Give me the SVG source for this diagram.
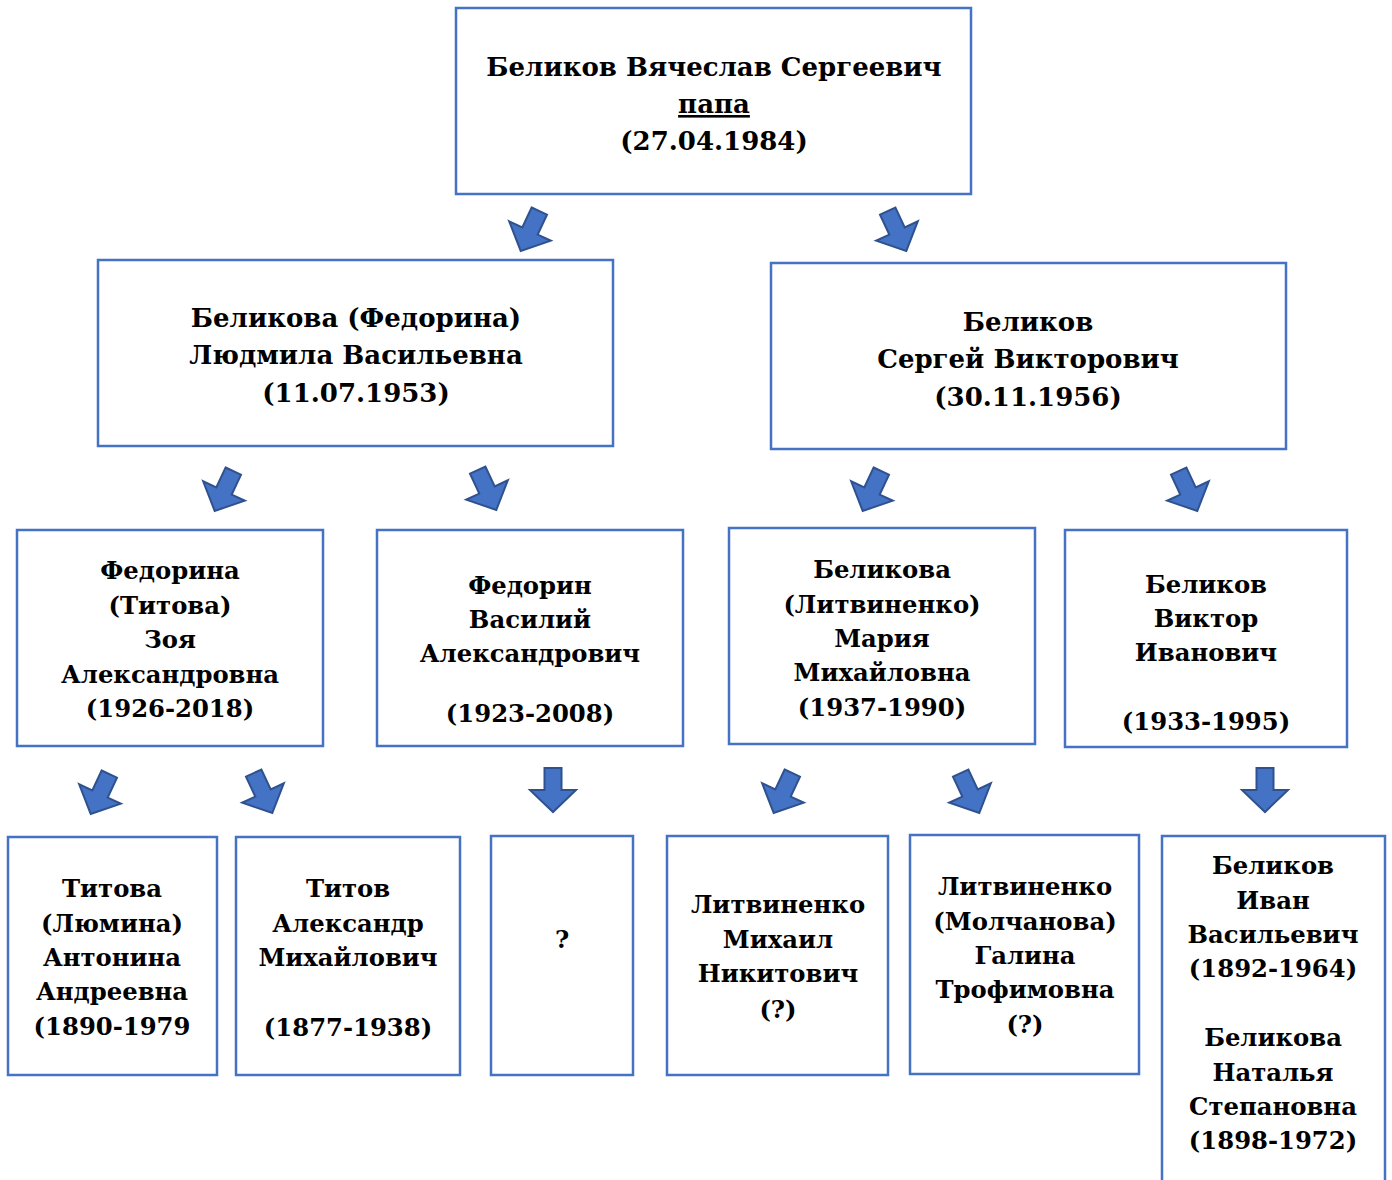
<svg xmlns="http://www.w3.org/2000/svg" width="1392" height="1180" viewBox="0 0 1392 1180">
<style>
.box{fill:#fff;stroke:#4472C4;stroke-width:2.5}
.t{font-family:"DejaVu Serif","Liberation Serif",serif;font-weight:bold;fill:#000;text-anchor:middle}
.big{font-size:26px}
.sm{font-size:24.3px}
.arr{fill:#4472C4;stroke:#2F528F;stroke-width:2;stroke-linejoin:miter}
</style>
<defs>
<path id="a" d="M-8.5,-22 H8.5 V0 H23 L0,22 L-23,0 H-8.5 Z"/>
</defs>
<rect width="1392" height="1180" fill="#fff"/>
<g id="connectors">
<use href="#a" class="arr" transform="translate(530,231) rotate(25)"/>
<use href="#a" class="arr" transform="translate(897,231) rotate(-25)"/>
<use href="#a" class="arr" transform="translate(224,491) rotate(25)"/>
<use href="#a" class="arr" transform="translate(487,490) rotate(-25)"/>
<use href="#a" class="arr" transform="translate(872,491) rotate(25)"/>
<use href="#a" class="arr" transform="translate(1188,491) rotate(-25)"/>
<use href="#a" class="arr" transform="translate(100,794) rotate(25)"/>
<use href="#a" class="arr" transform="translate(263,793) rotate(-25)"/>
<use href="#a" class="arr" transform="translate(553,790)"/>
<use href="#a" class="arr" transform="translate(783,793) rotate(25)"/>
<use href="#a" class="arr" transform="translate(970,793) rotate(-25)"/>
<use href="#a" class="arr" transform="translate(1265,790)"/>
</g>
<g id="n-papa">
<rect class="box" x="456" y="8" width="515" height="186"/>
<text class="t big" x="714" y="76">Беликов Вячеслав Сергеевич</text>
<text class="t big" x="714" y="113" text-decoration="underline">папа</text>
<text class="t big" x="714" y="150">(27.04.1984)</text>
</g>
<g id="n-mother">
<rect class="box" x="98" y="260" width="515" height="186"/>
<text class="t big" x="356" y="327">Беликова (Федорина)</text>
<text class="t big" x="356" y="364">Людмила Васильевна</text>
<text class="t big" x="356" y="402">(11.07.1953)</text>
</g>
<g id="n-father">
<rect class="box" x="771" y="263" width="515" height="186"/>
<text class="t big" x="1028" y="331">Беликов</text>
<text class="t big" x="1028" y="368">Сергей Викторович</text>
<text class="t big" x="1028" y="406">(30.11.1956)</text>
</g>
<g id="n-zoya">
<rect class="box" x="17" y="530" width="306" height="216"/>
<text class="t sm" x="170" y="579">Федорина</text>
<text class="t sm" x="170" y="614">(Титова)</text>
<text class="t sm" x="170" y="648">Зоя</text>
<text class="t sm" x="170" y="683">Александровна</text>
<text class="t sm" x="170" y="717">(1926-2018)</text>
</g>
<g id="n-vasiliy">
<rect class="box" x="377" y="530" width="306" height="216"/>
<text class="t sm" x="530" y="594">Федорин</text>
<text class="t sm" x="530" y="628">Василий</text>
<text class="t sm" x="530" y="662">Александрович</text>
<text class="t sm" x="530" y="722">(1923-2008)</text>
</g>
<g id="n-maria">
<rect class="box" x="729" y="528" width="306" height="216"/>
<text class="t sm" x="882" y="578">Беликова</text>
<text class="t sm" x="882" y="613">(Литвиненко)</text>
<text class="t sm" x="882" y="647">Мария</text>
<text class="t sm" x="882" y="681">Михайловна</text>
<text class="t sm" x="882" y="716">(1937-1990)</text>
</g>
<g id="n-viktor">
<rect class="box" x="1065" y="530" width="282" height="217"/>
<text class="t sm" x="1206" y="593">Беликов</text>
<text class="t sm" x="1206" y="627">Виктор</text>
<text class="t sm" x="1206" y="661">Иванович</text>
<text class="t sm" x="1206" y="730">(1933-1995)</text>
</g>
<g id="n-antonina">
<rect class="box" x="8" y="837" width="209" height="238"/>
<text class="t sm" x="112" y="897">Титова</text>
<text class="t sm" x="112" y="932">(Люмина)</text>
<text class="t sm" x="112" y="966">Антонина</text>
<text class="t sm" x="112" y="1000">Андреевна</text>
<text class="t sm" x="112" y="1035">(1890-1979</text>
</g>
<g id="n-aleksandr">
<rect class="box" x="236" y="837" width="224" height="238"/>
<text class="t sm" x="348" y="897">Титов</text>
<text class="t sm" x="348" y="932">Александр</text>
<text class="t sm" x="348" y="966">Михайлович</text>
<text class="t sm" x="348" y="1036">(1877-1938)</text>
</g>
<g id="n-unknown">
<rect class="box" x="491" y="836" width="142" height="239"/>
<text class="t sm" x="562" y="948">?</text>
</g>
<g id="n-mikhail">
<rect class="box" x="667" y="836" width="221" height="239"/>
<text class="t sm" x="778" y="913">Литвиненко</text>
<text class="t sm" x="778" y="948">Михаил</text>
<text class="t sm" x="778" y="982">Никитович</text>
<text class="t sm" x="778" y="1018">(?)</text>
</g>
<g id="n-galina">
<rect class="box" x="910" y="835" width="229" height="239"/>
<text class="t sm" x="1025" y="895">Литвиненко</text>
<text class="t sm" x="1025" y="930">(Молчанова)</text>
<text class="t sm" x="1025" y="964">Галина</text>
<text class="t sm" x="1025" y="998">Трофимовна</text>
<text class="t sm" x="1025" y="1033">(?)</text>
</g>
<g id="n-ivan-natalya">
<rect class="box" x="1162" y="836" width="223" height="360"/>
<text class="t sm" x="1273" y="874">Беликов</text>
<text class="t sm" x="1273" y="909">Иван</text>
<text class="t sm" x="1273" y="943">Васильевич</text>
<text class="t sm" x="1273" y="977">(1892-1964)</text>
<text class="t sm" x="1273" y="1046">Беликова</text>
<text class="t sm" x="1273" y="1081">Наталья</text>
<text class="t sm" x="1273" y="1115">Степановна</text>
<text class="t sm" x="1273" y="1149">(1898-1972)</text>
</g>
</svg>
